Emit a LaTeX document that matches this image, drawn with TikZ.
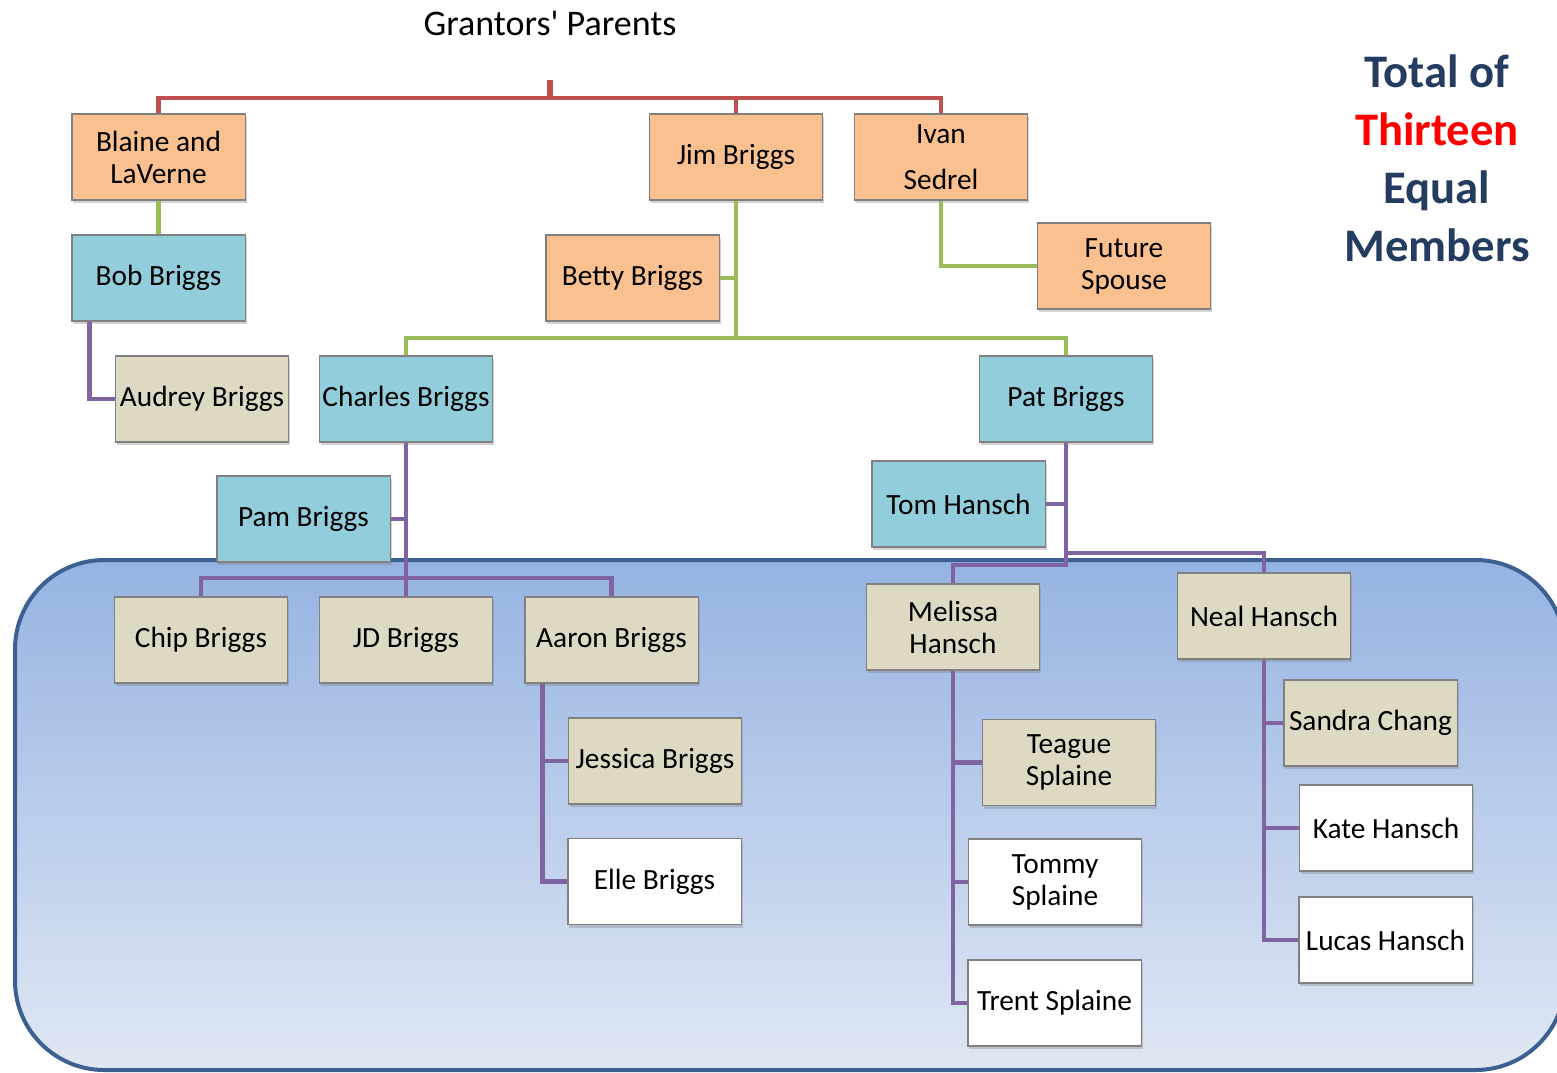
\documentclass[tikz,border=0pt]{standalone}
\usepackage{fontspec}
\setmainfont{Carlito}
\newfontfamily\titlefont{Carlito}
\usetikzlibrary{shadows, positioning}

\definecolor{parentorange}{RGB}{250,192,144}
\definecolor{childblue}{RGB}{146,205,220}
\definecolor{grandtan}{RGB}{221,217,195}
\definecolor{boxgray}{RGB}{128,128,128}
\definecolor{redline}{RGB}{192,80,77}
\definecolor{greenline}{RGB}{155,187,89}
\definecolor{purpleline}{RGB}{128,100,162}
\definecolor{panelborder}{RGB}{59,96,145}
\definecolor{paneltop}{RGB}{149,179,226}
\definecolor{panelbottom}{RGB}{224,231,244}
\definecolor{navytext}{RGB}{36,60,96}

\tikzset{
  person/.style={draw=boxgray, line width=1pt, rectangle, minimum width=130pt, minimum height=64.5pt,
    inner sep=1pt, align=center, text centered, font=\fontsize{22}{24}\selectfont,
    drop shadow={shadow xshift=1pt, shadow yshift=-2.5pt, opacity=0.35}},
  parent/.style={person, fill=parentorange},
  child/.style={person, fill=childblue},
  grand/.style={person, fill=grandtan},
  great/.style={person, fill=white},
  redlink/.style={draw=redline, line width=3.5pt},
  greenlink/.style={draw=greenline, line width=3.5pt},
  purplelink/.style={draw=purpleline, line width=3.5pt}
}

\begin{document}
\begin{tikzpicture}[x=0.75pt, y=-0.75pt]
    \useasboundingbox (0,0) rectangle (1557,1072);

    % panel %
      \path[draw=panelborder, line width=3pt, rounded corners=67pt, top color=paneltop, bottom color=panelbottom]
        (15,560) rectangle (1565,1070);

    % headings %
      \node[font=\titlefont\fontsize{27}{30}\selectfont] (title) at (550,23) {Grantors' Parents};
      \node[font=\bfseries\fontsize{35}{43.5}\selectfont, text=navytext, align=center] (total) at (1437,158)
        {Total of\\\textcolor{red}{Thirteen}\\Equal\\Members};

    % nodes %
      \node[parent] (blaine) at (158.5,157) {Blaine and\\LaVerne};
      \node[parent] (jim) at (736,157) {Jim Briggs};
      \node[parent] (ivan) at (941,157) {Ivan\\[10.5pt]Sedrel};
      \node[child] (bob) at (158.5,278) {Bob Briggs};
      \node[parent] (betty) at (632.5,278) {Betty Briggs};
      \node[parent] (spouse) at (1124,266) {Future\\Spouse};
      \node[grand] (audrey) at (202,399) {Audrey Briggs};
      \node[child] (charles) at (406,399) {Charles Briggs};
      \node[child] (pat) at (1066,399) {Pat Briggs};
      \node[child] (pam) at (303.5,519) {Pam Briggs};
      \node[child] (tom) at (958.5,504) {Tom Hansch};
      \node[grand] (chip) at (201,640) {Chip Briggs};
      \node[grand] (jd) at (406,640) {JD Briggs};
      \node[grand] (aaron) at (611.5,640) {Aaron Briggs};
      \node[grand] (melissa) at (953,627) {Melissa\\Hansch};
      \node[grand] (neal) at (1264,616) {Neal Hansch};
      \node[grand] (jessica) at (655,761) {Jessica Briggs};
      \node[great] (elle) at (654.5,881.5) {Elle Briggs};
      \node[grand] (teague) at (1069,762.5) {Teague\\Splaine};
      \node[great] (tommy) at (1055,882) {Tommy\\Splaine};
      \node[great] (trent) at (1054.5,1003) {Trent Splaine};
      \node[grand] (sandra) at (1370.5,723) {Sandra Chang};
      \node[great] (kate) at (1386,828) {Kate Hansch};
      \node[great] (lucas) at (1385.5,940) {Lucas Hansch};

      % junctions %
      \coordinate (root) at (550,80);
      \coordinate (rbar) at (550,98);
      \coordinate (gbar) at (736,338);
      \coordinate (cbar) at (406,578);
      \coordinate (mbar) at (1066,565);
      \coordinate (nbar) at (1066,553);

      % edges %
      \draw[redlink, line width=4.5pt] (root) -- (rbar);
      \draw[redlink] (blaine.north) |- (rbar) -| (ivan.north);
      \draw[redlink] (jim.north) -- (jim.north |- rbar);

      \draw[greenlink] (blaine.south) -- (bob.north);
      \draw[greenlink] (jim.south) -- (gbar);
      \draw[greenlink] (charles.north) |- (gbar) -| (pat.north);
      \draw[greenlink] (betty.east) -- (betty.east -| jim.south);
      \draw[greenlink] (ivan.south) |- (spouse.west);

      \draw[purplelink] ([xshift=13.5pt]bob.south west) |- (audrey.west);
      \draw[purplelink] (charles.south) -- (jd.north);
      \draw[purplelink] (pam.east) -- (pam.east -| charles.south);
      \draw[purplelink] (chip.north) |- (cbar) -| (aaron.north);
      \draw[purplelink] ([xshift=13.5pt]aaron.south west) |- (elle.west);
      \draw[purplelink] (jessica.west) -| ([xshift=13.5pt]aaron.south west);

      \draw[purplelink] (pat.south) -- (mbar) -| (melissa.north);
      \draw[purplelink] (nbar) -| (neal.north);
      \draw[purplelink] (tom.east) -- (tom.east -| pat.south);
      \draw[purplelink] (melissa.south) |- (trent.west);
      \draw[purplelink] (teague.west) -| (melissa.south);
      \draw[purplelink] (tommy.west) -| (melissa.south);
      \draw[purplelink] (neal.south) |- (lucas.west);
      \draw[purplelink] (sandra.west) -| (neal.south);
      \draw[purplelink] (kate.west) -| (neal.south);
\end{tikzpicture}
\end{document}
